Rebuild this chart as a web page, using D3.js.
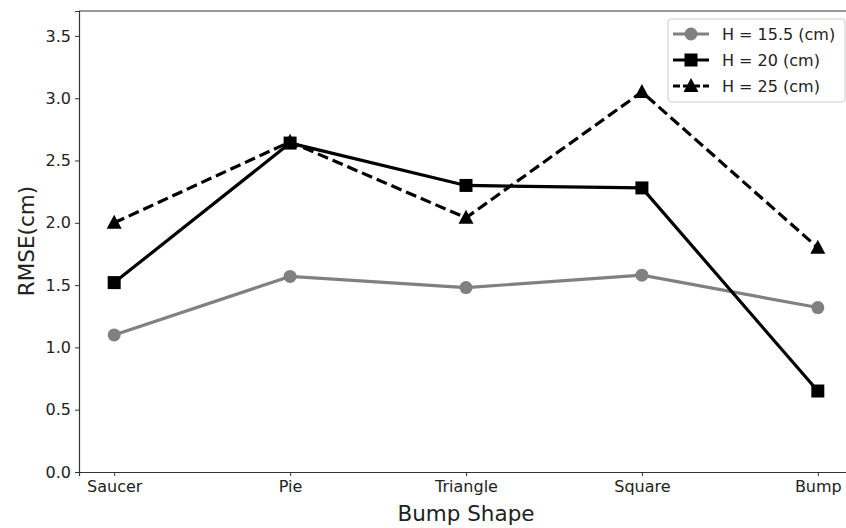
<!DOCTYPE html>
<html>
<head>
<meta charset="utf-8">
<script src="https://cdn.jsdelivr.net/npm/d3@7"></script>
<style>
  body { margin: 0; background: #fff; }
  svg { font-family: "DejaVu Sans", sans-serif; }
</style>
</head>
<body>
<div id="chart"></div>
<script>
const shapes = ["Saucer", "Pie", "Triangle", "Square", "Bump"];
const h155 = [1.10, 1.57, 1.48, 1.58, 1.32];
const h20 = [1.52, 2.64, 2.30, 2.28, 0.65];
const h25 = [2.00, 2.65, 2.04, 3.05, 1.80];
const yTicks = [0.0, 0.5, 1.0, 1.5, 2.0, 2.5, 3.0, 3.5];

const series = [
  { name: "H = 15.5 (cm)", values: h155, color: "#808080", marker: "circle", dash: null },
  { name: "H = 20 (cm)", values: h20, color: "#000000", marker: "square", dash: null },
  { name: "H = 25 (cm)", values: h25, color: "#000000", marker: "triangle", dash: "11,5" }
];

var width = 846, height = 528;
var margin = { left: 79, top: 11, right: -7, bottom: 56 };

var svg = d3.select("#chart").append("svg")
  .attr("width", width).attr("height", height);

// band spacing like matplotlib categorical axis with 0.2 padding
var x = d3.scalePoint()
  .domain(shapes)
  .range([margin.left, width - margin.right])
  .padding(0.2);

var y = d3.scaleLinear()
  .domain([0, 3.7])
  .range([height - margin.bottom, margin.top]);

// spines
var spine = svg.append("g").attr("stroke", "#333").attr("stroke-width", 1.2);
spine.append("line")
  .attr("x1", margin.left).attr("x2", width - margin.right)
  .attr("y1", margin.top).attr("y2", margin.top);

var xAxis = svg.append("g")
  .attr("transform", `translate(0,${height - margin.bottom})`)
  .call(d3.axisBottom(x).tickSize(4).tickPadding(5));
var yAxis = svg.append("g")
  .attr("transform", `translate(${margin.left},0)`)
  .call(d3.axisLeft(y).tickValues(yTicks).tickFormat(d3.format(".1f")).tickSize(4).tickPadding(4));

[xAxis, yAxis].forEach(function (a) {
  a.select(".domain").attr("stroke", "#333").attr("stroke-width", 1.2);
  a.selectAll(".tick line").attr("stroke", "#333");
  a.selectAll("text").attr("fill", "#222").style("font-size", "16px")
    .style("font-family", "DejaVu Sans, sans-serif");
});

// axis labels
svg.append("text")
  .attr("x", 466).attr("y", 521)
  .attr("text-anchor", "middle")
  .style("font-size", "21.5px").attr("fill", "#222")
  .text("Bump Shape");

svg.append("text")
  .attr("transform", "translate(34,241) rotate(-90)")
  .attr("text-anchor", "middle")
  .style("font-size", "21.5px").attr("fill", "#222")
  .text("RMSE(cm)");

function drawMarker(g, type, color) {
  if (type === "circle") {
    g.append("circle").attr("r", 6.5).attr("fill", color);
  } else if (type === "square") {
    g.append("rect").attr("x", -6.5).attr("y", -6.5).attr("width", 13).attr("height", 13).attr("fill", color);
  } else {
    g.append("path").attr("d", "M0,-8L7.5,6L-7.5,6Z").attr("fill", color);
  }
}

var line = d3.line()
  .x(function (d, i) { return x(shapes[i]); })
  .y(function (d) { return y(d); });

series.forEach(function (s) {
  svg.append("path")
    .datum(s.values)
    .attr("d", line)
    .attr("fill", "none")
    .attr("stroke", s.color)
    .attr("stroke-width", 3.2)
    .attr("stroke-dasharray", s.dash);

  s.values.forEach(function (v, i) {
    var g = svg.append("g").attr("transform", `translate(${x(shapes[i])},${y(v)})`);
    drawMarker(g, s.marker, s.color);
  });
});

// legend
var legend = svg.append("g").attr("transform", "translate(668,19)");
legend.append("rect")
  .attr("width", 177).attr("height", 83).attr("rx", 3)
  .attr("fill", "#fff").attr("fill-opacity", 0.8)
  .attr("stroke", "#ccc");

series.forEach(function (s, i) {
  var row = legend.append("g").attr("transform", `translate(0,${15 + i * 26})`);
  row.append("line")
    .attr("x1", 5).attr("x2", 41)
    .attr("stroke", s.color).attr("stroke-width", 3.2)
    .attr("stroke-dasharray", s.dash ? "7,3" : null);
  var m = row.append("g").attr("transform", "translate(23,0)");
  drawMarker(m, s.marker, s.color);
  row.append("text")
    .attr("x", 54).attr("y", 6)
    .style("font-size", "16px").attr("fill", "#222")
    .text(s.name);
});
</script>
</body>
</html>
